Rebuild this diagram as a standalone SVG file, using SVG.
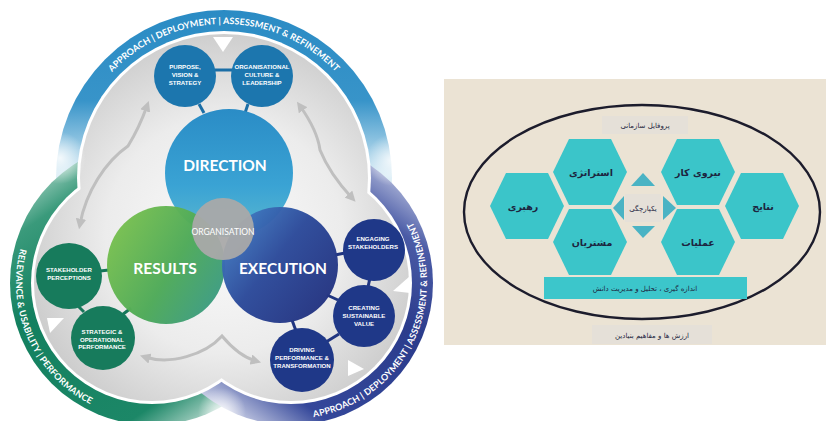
<svg xmlns="http://www.w3.org/2000/svg" width="826" height="421" viewBox="0 0 826 421">
<defs>
<style>
.band{font-family:Lato,"Liberation Sans",sans-serif;font-weight:700;font-size:9px;fill:#fff}
.big{font-family:Lato,"Liberation Sans",sans-serif;font-weight:700;font-size:15.5px;fill:#fff;text-anchor:middle}
.sm{font-family:"Liberation Sans",Arial,sans-serif;font-weight:700;font-size:6.1px;fill:#fff;text-anchor:middle}
.orgt{font-family:Lato,"Liberation Sans",sans-serif;font-size:8.5px;fill:#fff;text-anchor:middle}
.fa{font-family:"DejaVu Sans",sans-serif;fill:#1d2540;text-anchor:middle}
.hx{font-size:9.5px;font-weight:700}
.lb{font-size:7px}
.arr{fill:none;stroke:#bfbfbf;stroke-width:3;marker-start:url(#ah);marker-end:url(#ah)}
.cb{stroke:#1b6ea6;stroke-width:3}
.cg{stroke:#17775a;stroke-width:3}
.cn{stroke:#203580;stroke-width:3}
.tri{fill:#fff}
.hex{fill:#3bc5c9}
.ptri{fill:#4ab3c4}
.gbox{fill:#e5e0d8}
.glow{fill:url(#gGlow)}
</style>
<linearGradient id="gTop" gradientUnits="userSpaceOnUse" x1="0" y1="10" x2="0" y2="175">
<stop offset="0" stop-color="#2a8bc4"/>
<stop offset="0.55" stop-color="#3894c9"/>
<stop offset="1" stop-color="#d6ebf5"/>
</linearGradient>
<linearGradient id="gLeft" gradientUnits="userSpaceOnUse" x1="40" y1="145" x2="232" y2="425">
<stop offset="0" stop-color="#d8ede5"/>
<stop offset="0.18" stop-color="#3a9a7b"/>
<stop offset="0.4" stop-color="#13805f"/>
<stop offset="0.82" stop-color="#1c8767"/>
<stop offset="1" stop-color="#eef6f2"/>
</linearGradient>
<linearGradient id="gRight" gradientUnits="userSpaceOnUse" x1="412" y1="160" x2="222" y2="425">
<stop offset="0" stop-color="#e2e5f3"/>
<stop offset="0.2" stop-color="#4a5ba6"/>
<stop offset="0.42" stop-color="#2b3c8c"/>
<stop offset="0.8" stop-color="#34479a"/>
<stop offset="1" stop-color="#eceef7"/>
</linearGradient>
<radialGradient id="gIn" gradientUnits="userSpaceOnUse" cx="224" cy="235" r="215">
<stop offset="0" stop-color="#fbfbfb"/>
<stop offset="0.55" stop-color="#ececec"/>
<stop offset="1" stop-color="#c9c9c9"/>
</radialGradient>
<radialGradient id="gGlow">
<stop offset="0" stop-color="#fff" stop-opacity="0.85"/>
<stop offset="1" stop-color="#fff" stop-opacity="0"/>
</radialGradient>
<linearGradient id="gDir" x1="0" y1="0" x2="0" y2="1">
<stop offset="0" stop-color="#2a8cc6"/>
<stop offset="0.6" stop-color="#3aa3d4"/>
<stop offset="1" stop-color="#5cb8cf"/>
</linearGradient>
<linearGradient id="gRes" x1="0" y1="0.2" x2="1" y2="0.8">
<stop offset="0" stop-color="#7cc24f"/>
<stop offset="0.55" stop-color="#4eaa58"/>
<stop offset="1" stop-color="#3a9a86"/>
</linearGradient>
<linearGradient id="gExe" x1="0" y1="0.1" x2="1" y2="0.9">
<stop offset="0" stop-color="#4584c9"/>
<stop offset="0.45" stop-color="#2c4a9a"/>
<stop offset="1" stop-color="#222f7c"/>
</linearGradient>
<marker id="ah" viewBox="0 0 10 10" refX="5" refY="5" markerWidth="3.5" markerHeight="3.5" orient="auto-start-reverse">
<path d="M0,0 L10,5 L0,10 z" fill="#bfbfbf"/>
</marker>
<path id="pTop" d="M 109.9,74.5 A 154 154 0 0 1 337.8,74.2"/>
<path id="pLeft" d="M 20.9,246.7 A 136 136 0 0 0 92,405"/>
<path id="pRight" d="M 310.6,417.6 A 136 136 0 0 0 411.1,219.2"/>
<polygon id="hexp" points="-37,0 -21,-33 21,-33 37,0 21,33 -21,33"/>
</defs>

<rect width="826" height="421" fill="#fff"/>

<g id="ring">
<circle cx="224" cy="178" r="168" fill="url(#gTop)"/>
<circle cx="152" cy="283" r="142" fill="url(#gLeft)"/>
<circle cx="291" cy="283" r="142" fill="url(#gRight)"/>
<circle cx="224" cy="178" r="147" fill="#fff"/>
<circle cx="152" cy="283" r="121" fill="#fff"/>
<circle cx="291" cy="283" r="121" fill="#fff"/>
<circle cx="224" cy="178" r="144" fill="url(#gIn)"/>
<circle cx="152" cy="283" r="118" fill="url(#gIn)"/>
<circle cx="291" cy="283" r="118" fill="url(#gIn)"/>
<circle class="glow" cx="60" cy="158" r="26"/>
<circle class="glow" cx="392" cy="160" r="26"/>
<circle class="glow" cx="222" cy="412" r="24"/>
<text class="band"><textPath href="#pTop" startOffset="50%" text-anchor="middle" textLength="250">APPROACH | DEPLOYMENT | ASSESSMENT &amp; REFINEMENT</textPath></text>
<text class="band"><textPath href="#pLeft" startOffset="50%" text-anchor="middle" textLength="184">RELEVANCE &amp; USABILITY | PERFORMANCE</textPath></text>
<text class="band"><textPath href="#pRight" startOffset="50%" text-anchor="middle" textLength="254">APPROACH | DEPLOYMENT | ASSESSMENT &amp; REFINEMENT</textPath></text>
<polygon class="tri" points="213,37 233,37 223,52"/>
<polygon class="tri" points="47,318 64,318 50,333"/>
<polygon class="tri" points="410,276 410,293 393,291"/>
<polygon class="tri" points="348,360 348,376 364,369"/>
</g>

<g id="connectors">
<path class="arr" d="M 80,224 C 86,192 105,162 128,146 C 136,133 142,120 147,106"/>
<path class="arr" d="M 300,106 C 310,120 318,135 320,150 C 328,170 340,185 352,198"/>
<path class="arr" d="M 145,357 C 170,365 205,355 222,336 C 232,348 245,358 256,361"/>
<line class="cb" x1="215" y1="70" x2="232" y2="70"/>
<line class="cb" x1="199" y1="104" x2="204" y2="113"/>
<line class="cb" x1="248" y1="104" x2="245" y2="113"/>
<line class="cg" x1="100" y1="271" x2="109" y2="270"/>
<line class="cg" x1="77" y1="305" x2="84" y2="312"/>
<line class="cg" x1="122" y1="315" x2="131" y2="308"/>
<line class="cn" x1="335" y1="255" x2="345" y2="253"/>
<line class="cn" x1="370" y1="278" x2="368" y2="287"/>
<line class="cn" x1="327" y1="295" x2="338" y2="300"/>
<line class="cn" x1="292" y1="320" x2="296" y2="331"/>
<line class="cn" x1="326" y1="342" x2="339" y2="334"/>
</g>

<g id="direction">
<circle cx="229" cy="173" r="64" fill="url(#gDir)"/>
<text class="big" x="225" y="171">DIRECTION</text>
</g>
<g id="results">
<circle cx="166" cy="265" r="59" fill="url(#gRes)" opacity="0.97"/>
<text class="big" x="165" y="274">RESULTS</text>
</g>
<g id="execution">
<circle cx="280" cy="265" r="58" fill="url(#gExe)" opacity="0.97"/>
<text class="big" x="283" y="274">EXECUTION</text>
</g>
<g id="organisation">
<circle cx="223" cy="229" r="31" fill="#a9a9a9" opacity="0.95"/>
<text class="orgt" x="223" y="235">ORGANISATION</text>
</g>

<g id="purpose">
<circle cx="185" cy="76" r="31" fill="#1c76ae"/>
<text class="sm" x="185" y="68.9">PURPOSE,<tspan x="185" dy="7.8">VISION &amp;</tspan><tspan x="185" dy="7.8">STRATEGY</tspan></text>
</g>
<g id="culture">
<circle cx="262" cy="76" r="31" fill="#1c76ae"/>
<text class="sm" x="262" y="68.9">ORGANISATIONAL<tspan x="262" dy="7.8">CULTURE &amp;</tspan><tspan x="262" dy="7.8">LEADERSHIP</tspan></text>
</g>
<g id="stakeholder-perceptions">
<circle cx="69" cy="276" r="33" fill="#177b5c"/>
<text class="sm" x="69" y="272">STAKEHOLDER<tspan x="69" dy="7.8">PERCEPTIONS</tspan></text>
</g>
<g id="strategic-performance">
<circle cx="103" cy="338" r="32" fill="#177b5c"/>
<text class="sm" x="102" y="333.7">STRATEGIC &amp;<tspan x="102" dy="7.8">OPERATIONAL</tspan><tspan x="102" dy="7.8">PERFORMANCE</tspan></text>
</g>
<g id="engaging">
<circle cx="374" cy="250" r="31" fill="#1f3888"/>
<text class="sm" x="373" y="241.3">ENGAGING<tspan x="373" dy="7.8">STAKEHOLDERS</tspan></text>
</g>
<g id="creating">
<circle cx="364" cy="316" r="31" fill="#1f3888"/>
<text class="sm" x="364" y="310.4">CREATING<tspan x="364" dy="7.8">SUSTAINABLE</tspan><tspan x="364" dy="7.8">VALUE</tspan></text>
</g>
<g id="driving">
<circle cx="302" cy="360" r="32" fill="#1f3888"/>
<text class="sm" x="302" y="352.1">DRIVING<tspan x="302" dy="7.8">PERFORMANCE &amp;</tspan><tspan x="302" dy="7.8">TRANSFORMATION</tspan></text>
</g>

<g id="persian-model">
<rect x="444" y="79" width="382" height="266" fill="#ebe3d4"/>
<ellipse cx="642" cy="212" rx="178" ry="107" fill="none" stroke="#1c1c2c" stroke-width="2.4"/>
</g>
<g id="profile">
<rect class="gbox" x="602" y="116" width="86" height="18"/>
<text class="fa lb" x="645" y="128">پروفایل سازمانی</text>
</g>
<g id="strategy-hex">
<use href="#hexp" class="hex" x="590" y="172"/>
<text class="fa hx" x="591" y="176">استراتژی</text>
</g>
<g id="workforce-hex">
<use href="#hexp" class="hex" x="698" y="172"/>
<text class="fa hx" x="698" y="176">نیروی کار</text>
</g>
<g id="leadership-hex">
<use href="#hexp" class="hex" x="527" y="206"/>
<text class="fa hx" x="523" y="210">رهبری</text>
</g>
<g id="results-hex">
<use href="#hexp" class="hex" x="762" y="206"/>
<text class="fa hx" x="763" y="210">نتایج</text>
</g>
<g id="customers-hex">
<use href="#hexp" class="hex" x="590" y="242"/>
<text class="fa hx" x="592" y="246">مشتریان</text>
</g>
<g id="operations-hex">
<use href="#hexp" class="hex" x="698" y="242"/>
<text class="fa hx" x="698" y="246">عملیات</text>
</g>
<g id="integration">
<rect class="gbox" x="625" y="194" width="36" height="28"/>
<polygon class="ptri" points="643,173 655,186 631,186"/>
<polygon class="ptri" points="632,226 655,226 643,238"/>
<polygon class="ptri" points="624,196 624,220 613,208"/>
<polygon class="ptri" points="663,196 663,220 676,208"/>
<text class="fa lb" x="643" y="211">یکپارچگی</text>
</g>
<g id="measurement">
<rect x="544" y="277" width="203" height="22" fill="#3cc6cb"/>
<text class="fa lb" x="645" y="291">اندازه گیری ، تحلیل و مدیریت دانش</text>
</g>
<g id="values">
<rect class="gbox" x="592" y="325" width="120" height="19"/>
<text class="fa lb" x="652" y="337.5">ارزش ها و مفاهیم بنیادین</text>
</g>
</svg>
